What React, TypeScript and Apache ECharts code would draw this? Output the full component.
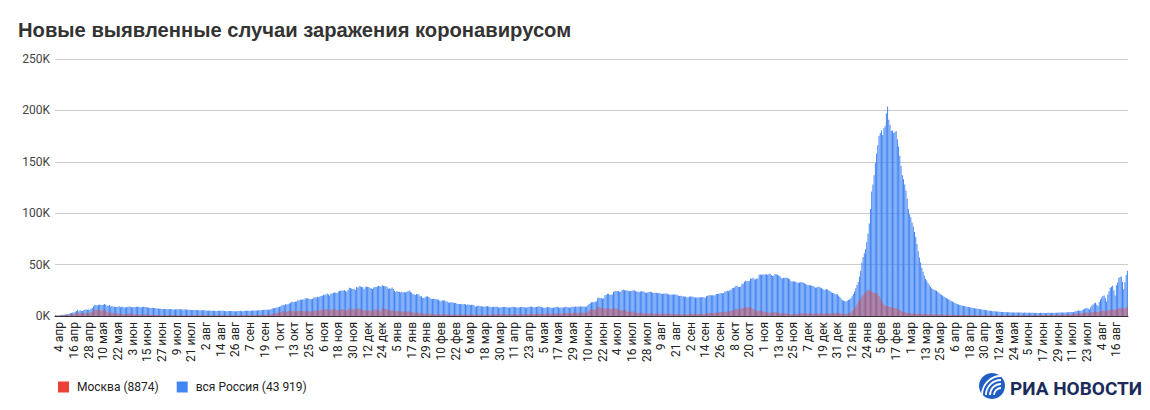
import React, { useEffect, useRef } from "react";
import * as echarts from "echarts";

const TITLE = "Новые выявленные случаи заражения коронавирусом";
const NAME_MOSCOW = "Москва (8874)";
const NAME_RUSSIA = "вся Россия (43 919)";
const MONTHS_RU = ["янв", "фев", "мар", "апр", "мая", "июн", "июл", "авг", "сен", "окт", "ноя", "дек"];
const START_DATE = [2020, 3, 1]; // 1 Apr 2020 (month index 3)
const Y_MAX = 250000;
const Y_STEP = 50000;

// Daily new cases, whole of Russia, in thousands (1 Apr 2020 - 31 Dec 2020)
const russia2020 = [
  0.8, 0.6, 0.6, 0.6, 0.7, 1.0, 1.2, 1.2, 1.5, 1.8, 1.7, 2.2, 2.6, 2.8, 3.4, 3.4, 4.1, 4.8, 6.1, 4.3, 5.6, 5.2, 4.8, 5.8, 6.0, 6.4, 6.2, 6.4, 5.8, 7.1,
  7.9, 9.6, 10.6, 10.6, 10.1, 10.6, 11.2, 10.7, 10.8, 11.0, 11.7, 10.9, 10.0, 10.0, 10.6, 9.2, 9.7, 8.9, 9.3, 8.8, 8.8, 8.9, 9.4, 8.6, 8.9, 8.9, 8.3, 8.4, 8.6, 9.0, 9.3,
  9.0, 8.5, 8.5, 8.8, 8.7, 8.9, 9.0, 9.0, 8.6, 8.4, 8.8, 9.0, 8.7, 8.8, 8.2, 8.2, 7.8, 7.8, 8.0, 7.9, 7.7, 7.6, 7.4, 7.2, 7.1, 7.1, 6.9, 6.8, 6.7, 6.7,
  6.6, 6.8, 6.6, 6.7, 6.6, 6.4, 6.4, 6.6, 6.5, 6.6, 6.6, 6.6, 6.5, 6.2, 6.4, 6.4, 6.4, 6.2, 6.1, 5.9, 5.8, 5.9, 5.8, 5.8, 5.9, 5.8, 5.6, 5.4, 5.5, 5.5, 5.5,
  5.5, 5.4, 5.2, 5.2, 5.3, 5.2, 5.2, 5.2, 5.1, 4.9, 4.9, 5.1, 5.1, 5.1, 5.1, 5.0, 4.8, 4.7, 4.7, 4.8, 4.9, 4.9, 4.9, 4.7, 4.7, 4.7, 4.7, 4.8, 4.9, 5.0, 4.7,
  4.7, 5.0, 5.1, 5.2, 5.2, 5.2, 5.1, 5.2, 5.4, 5.3, 5.4, 5.4, 5.4, 5.5, 5.7, 5.5, 5.8, 5.9, 6.1, 6.1, 6.2, 6.2, 6.4, 6.6, 7.2, 7.5, 7.9, 8.1, 8.2, 8.5,
  8.9, 9.4, 10.5, 10.9, 10.5, 11.6, 11.1, 11.5, 12.1, 12.8, 13.6, 13.9, 13.6, 14.2, 14.2, 15.2, 15.1, 16.0, 15.7, 16.3, 15.7, 17.3, 17.1, 17.3, 16.7, 16.6, 16.2, 16.6, 17.7, 18.3, 18.1,
  18.7, 18.3, 19.0, 19.4, 19.8, 20.6, 20.5, 21.0, 21.8, 20.9, 19.9, 21.6, 22.0, 22.7, 22.8, 22.6, 22.4, 23.6, 24.3, 24.6, 24.8, 24.6, 25.2, 24.3, 23.7, 25.3, 27.5, 27.1, 26.7, 26.3,
  26.4, 25.3, 28.1, 27.4, 28.8, 29.0, 28.1, 27.9, 26.1, 27.9, 28.6, 28.1, 28.1, 27.3, 26.7, 26.2, 27.7, 28.2, 28.2, 28.6, 29.4, 28.9, 28.8, 29.9, 29.3, 28.9, 29.0, 28.3, 26.5, 27.0, 26.5,
];

const russia2021 = [
  27.7, 26.3, 24.2, 23.4, 24.2, 23.3, 23.5, 22.9, 23.7, 22.9, 23.3, 22.9, 23.5, 24.1, 24.7, 23.6, 22.9, 21.1, 21.2, 20.4, 21.5, 21.1, 21.0, 19.3, 19.2, 17.7, 17.6, 18.2, 19.0, 19.2, 18.4,
  17.6, 16.6, 16.5, 16.7, 16.7, 16.6, 16.0, 15.9, 14.9, 14.3, 15.2, 15.1, 15.2, 14.2, 14.2, 13.2, 12.8, 13.4, 13.4, 13.0, 12.7, 12.6, 11.8, 11.7, 11.6, 11.7, 11.5, 11.4,
  11.6, 11.4, 10.6, 11.4, 11.0, 10.6, 11.0, 10.9, 10.4, 9.1, 9.4, 9.9, 10.0, 9.6, 9.4, 9.3, 9.1, 9.3, 9.4, 9.5, 9.3, 9.1, 8.4, 8.8, 9.1, 9.1, 9.1, 9.0, 8.3, 8.3, 8.4,
  8.8, 8.7, 8.8, 8.7, 8.6, 8.3, 8.3, 8.3, 8.8, 9.0, 8.8, 8.6, 8.2, 8.2, 8.3, 8.7, 9.1, 8.7, 8.6, 8.2, 8.1, 8.8, 8.8, 9.3, 9.0, 8.9, 8.3, 8.8, 8.7, 9.0,
  9.3, 9.3, 8.7, 8.3, 8.0, 8.0, 8.3, 8.7, 8.6, 8.4, 8.0, 7.8, 8.2, 8.3, 8.8, 8.9, 8.6, 8.0, 8.2, 8.2, 8.3, 8.6, 9.0, 8.8, 8.4, 8.1, 8.6, 8.9, 9.0, 9.1, 9.3,
  9.0, 9.3, 9.1, 9.3, 9.2, 9.3, 9.1, 9.0, 9.2, 10.4, 11.7, 12.5, 13.4, 13.7, 13.4, 14.1, 14.2, 17.3, 17.9, 17.6, 17.4, 16.7, 17.2, 20.2, 20.4, 21.7, 21.7, 20.5, 20.6, 21.0,
  23.5, 24.0, 24.4, 24.4, 24.4, 23.4, 23.8, 25.1, 25.8, 25.1, 25.1, 24.7, 24.5, 24.0, 24.2, 24.3, 25.0, 25.1, 24.0, 23.8, 23.7, 23.4, 23.8, 24.1, 23.9, 23.6, 22.6, 22.7, 22.9, 23.3, 23.6,
  23.3, 22.5, 22.6, 22.6, 22.5, 22.1, 22.3, 22.1, 21.6, 21.4, 21.9, 21.8, 21.9, 21.6, 21.0, 20.8, 20.6, 21.0, 20.9, 20.8, 20.8, 20.5, 19.6, 19.5, 19.7, 19.3, 19.2, 18.8, 18.9, 18.3, 18.3,
  18.9, 18.9, 18.9, 18.8, 18.3, 17.9, 17.9, 18.1, 18.2, 18.2, 18.3, 18.4, 18.0, 17.8, 19.3, 19.6, 20.2, 20.2, 20.3, 20.3, 20.0, 20.2, 21.3, 21.4, 21.6, 22.1, 22.3, 21.9, 22.4, 23.9,
  23.9, 24.5, 24.0, 25.1, 25.5, 27.0, 27.2, 28.0, 29.4, 29.4, 28.2, 28.2, 28.7, 31.3, 31.3, 33.2, 34.3, 33.7, 33.7, 34.1, 36.3, 36.4, 37.1, 35.7, 35.7, 36.4, 36.6, 40.1, 40.3, 40.0, 40.3,
  40.4, 40.4, 40.7, 40.2, 40.7, 41.3, 39.9, 38.8, 39.2, 40.8, 40.7, 40.1, 39.3, 38.8, 37.1, 36.6, 37.2, 37.1, 37.2, 37.1, 36.6, 35.7, 33.9, 33.6, 33.9, 33.6, 33.3, 32.6, 32.1, 32.6,
  32.9, 32.8, 32.6, 31.8, 31.1, 30.6, 29.8, 30.2, 30.0, 29.5, 29.4, 28.4, 27.4, 27.8, 28.5, 28.5, 27.8, 26.9, 26.2, 25.2, 25.5, 26.2, 25.7, 24.7, 24.4, 23.2, 22.4, 22.1, 21.2, 21.1, 21.1,
];

const russia2022 = [
  19.8, 18.6, 17.1, 15.6, 14.8, 14.3, 14.4, 14.9, 15.6, 16.2, 17.3, 19.2, 21.5, 23.8, 27.0, 30.5, 33.0, 38.5, 44.0, 52.0, 57.5, 61.0, 65.0, 72.0, 80.0, 90.0, 104.0, 121.0, 128.0, 137.0, 149.0,
  158.0, 166.0, 175.0, 178.0, 180.5, 176.0, 183.0, 185.0, 197.0, 203.9, 191.0, 186.0, 180.0, 180.4, 178.0, 179.0, 180.0, 172.0, 165.0, 156.0, 146.0, 137.0, 133.0, 128.0, 122.0, 114.0, 104.0, 99.0,
  96.0, 91.0, 87.0, 82.0, 77.0, 70.0, 63.0, 57.0, 52.0, 47.0, 43.0, 39.5, 36.0, 34.5, 32.0, 30.5, 28.5, 27.0, 26.0, 25.5, 25.0, 24.5, 23.5, 22.5, 21.5, 20.6, 20.0, 19.0, 18.2, 17.4, 16.7,
  16.0, 15.2, 14.6, 14.0, 13.3, 12.7, 12.2, 11.6, 11.1, 10.7, 10.4, 10.1, 9.8, 9.5, 9.2, 8.9, 8.7, 8.5, 8.3, 8.1, 7.8, 7.6, 7.4, 7.2, 7.0, 6.8, 6.6, 6.4, 6.2, 6.0,
  5.8, 5.6, 5.4, 5.2, 5.0, 4.9, 4.7, 4.6, 4.5, 4.4, 4.3, 4.2, 4.1, 4.0, 3.9, 3.9, 3.8, 3.7, 3.7, 3.6, 3.6, 3.5, 3.5, 3.5, 3.4, 3.4, 3.3, 3.4, 3.3, 3.3, 3.2,
  3.2, 3.3, 3.2, 3.2, 3.1, 3.1, 3.2, 3.1, 3.1, 3.0, 3.1, 3.0, 3.0, 3.0, 3.1, 3.0, 3.1, 3.0, 3.0, 3.0, 3.1, 3.1, 3.0, 3.1, 3.1, 3.0, 3.1, 3.2, 3.2, 3.3,
  3.3, 3.3, 3.4, 3.3, 3.4, 3.5, 3.6, 3.7, 3.8, 3.8, 3.7, 4.0, 4.3, 4.6, 5.0, 5.3, 5.1, 4.8, 5.7, 6.4, 7.0, 7.5, 7.8, 7.2, 6.3, 8.4, 10.2, 11.3, 12.5, 13.0, 11.0,
  9.8, 13.5, 16.0, 18.0, 19.5, 20.0, 17.5, 14.0, 21.0, 24.0, 27.6, 28.5, 29.5, 25.0, 20.0, 30.0, 32.5, 37.0, 38.0, 38.4, 33.0, 26.0, 33.0, 40.0, 43.919,
];

// Daily new cases, Moscow, in thousands
const moscow2020 = [
  0.6, 0.4, 0.5, 0.4, 0.5, 0.7, 0.7, 0.8, 1.0, 1.1, 1.0, 1.4, 1.4, 1.5, 1.8, 1.7, 2.2, 2.6, 3.6, 2.2, 2.9, 2.6, 2.1, 3.1, 2.7, 3.1, 2.9, 3.1, 2.2, 3.7,
  4.0, 5.4, 6.0, 5.9, 5.9, 6.7, 5.8, 4.7, 5.6, 5.0, 6.2, 5.4, 4.2, 3.5, 3.5, 3.2, 3.3, 2.6, 2.7, 2.3, 2.4, 2.3, 2.1, 2.0, 2.0, 1.9, 1.6, 1.6, 1.8, 2.3, 2.6,
  2.1, 1.8, 1.6, 1.5, 1.6, 1.6, 1.7, 1.6, 1.5, 1.2, 1.2, 1.5, 1.6, 1.6, 1.1, 1.1, 1.0, 1.0, 1.1, 1.0, 0.9, 1.0, 0.9, 0.9, 0.9, 0.8, 0.8, 0.8, 0.7, 0.7,
  0.7, 0.7, 0.7, 0.7, 0.7, 0.7, 0.7, 0.7, 0.7, 0.6, 0.6, 0.6, 0.6, 0.6, 0.6, 0.6, 0.6, 0.6, 0.6, 0.6, 0.6, 0.7, 0.7, 0.7, 0.7, 0.7, 0.7, 0.7, 0.7, 0.7, 0.7,
  0.7, 0.7, 0.7, 0.7, 0.7, 0.7, 0.7, 0.7, 0.7, 0.6, 0.6, 0.7, 0.7, 0.7, 0.7, 0.7, 0.7, 0.6, 0.6, 0.6, 0.7, 0.7, 0.7, 0.7, 0.6, 0.6, 0.6, 0.7, 0.7, 0.7, 0.7,
  0.7, 0.7, 0.7, 0.7, 0.7, 0.7, 0.7, 0.7, 0.8, 0.8, 0.8, 0.9, 0.9, 1.0, 1.0, 1.0, 1.1, 1.1, 1.2, 1.3, 1.3, 1.3, 1.5, 1.6, 2.0, 2.2, 2.5, 2.7, 2.9, 2.9,
  3.3, 3.7, 4.6, 4.8, 3.5, 4.5, 4.0, 4.9, 5.2, 5.4, 4.9, 4.6, 4.5, 4.6, 4.6, 4.9, 4.8, 5.4, 4.8, 4.6, 4.5, 4.5, 4.6, 5.2, 4.6, 4.4, 4.1, 4.3, 5.1, 5.3, 5.3,
  5.3, 5.9, 4.8, 6.0, 6.0, 6.8, 6.0, 6.3, 6.9, 5.3, 5.0, 6.4, 6.2, 6.7, 6.5, 6.2, 5.5, 5.9, 5.9, 6.4, 6.8, 6.4, 5.9, 5.5, 5.3, 6.4, 7.2, 7.2, 6.0, 7.0,
  6.5, 5.9, 7.5, 7.0, 7.1, 7.0, 6.2, 5.8, 5.0, 5.5, 5.8, 5.4, 5.9, 5.3, 5.1, 4.7, 5.9, 6.3, 6.4, 6.0, 6.4, 5.1, 4.4, 8.2, 7.1, 6.9, 6.9, 6.6, 5.3, 5.3, 5.9,
];

const moscow2021 = [
  5.4, 5.6, 5.2, 4.7, 4.6, 4.8, 4.6, 4.4, 4.5, 4.2, 4.5, 4.4, 4.3, 4.6, 4.6, 3.9, 3.7, 3.4, 3.3, 3.1, 3.4, 3.1, 2.9, 2.7, 2.6, 2.4, 2.2, 2.2, 2.4, 2.3, 2.3,
  2.2, 1.9, 1.8, 1.8, 1.8, 1.8, 1.7, 1.7, 1.6, 1.5, 1.8, 1.7, 1.8, 1.7, 1.6, 1.3, 1.2, 1.4, 1.4, 1.5, 1.4, 1.3, 1.2, 1.2, 1.3, 1.3, 1.4, 1.5,
  1.5, 1.4, 1.2, 1.5, 1.4, 1.4, 1.5, 1.5, 1.3, 1.0, 1.1, 1.3, 1.5, 1.4, 1.3, 1.3, 1.2, 1.3, 1.5, 1.5, 1.4, 1.4, 1.1, 1.4, 1.5, 1.6, 1.7, 1.7, 1.4, 1.4, 1.6,
  1.7, 1.7, 1.8, 1.8, 1.7, 1.4, 1.4, 1.5, 1.8, 2.0, 1.9, 1.7, 1.5, 1.5, 1.6, 1.8, 2.1, 2.0, 1.8, 1.5, 1.5, 2.0, 2.0, 2.4, 2.1, 2.0, 1.6, 2.0, 2.0, 2.2,
  2.5, 2.5, 2.2, 2.0, 1.9, 2.0, 2.2, 2.6, 2.5, 2.3, 2.0, 1.9, 2.1, 2.1, 2.7, 2.6, 2.5, 2.1, 2.3, 2.3, 2.6, 2.9, 3.0, 2.8, 2.6, 2.5, 2.9, 3.0, 3.2, 3.3, 3.3,
  3.0, 3.0, 3.1, 3.2, 3.2, 3.4, 3.1, 3.0, 3.2, 3.7, 5.0, 6.4, 6.8, 6.7, 5.8, 5.8, 6.7, 9.1, 9.1, 8.6, 7.9, 6.6, 7.3, 7.9, 7.4, 7.5, 7.6, 6.8, 6.5, 6.7,
  7.6, 7.4, 7.3, 7.4, 6.8, 5.4, 5.5, 5.8, 5.6, 6.2, 5.6, 4.2, 4.0, 4.2, 4.4, 4.3, 4.3, 4.2, 3.5, 3.0, 2.9, 3.1, 2.9, 3.1, 3.0, 2.4, 2.3, 2.5, 2.5, 2.7, 2.8,
  2.7, 2.3, 2.3, 2.4, 2.4, 2.4, 2.5, 2.5, 2.0, 2.0, 2.4, 2.3, 2.4, 2.4, 2.3, 1.9, 1.9, 2.2, 2.0, 2.0, 2.0, 2.1, 1.7, 1.6, 1.8, 1.6, 1.7, 1.7, 1.8, 1.5, 1.5,
  2.1, 2.2, 2.2, 2.2, 2.0, 1.8, 1.7, 2.3, 2.3, 2.1, 2.1, 2.1, 1.8, 1.8, 2.6, 2.8, 2.9, 2.8, 2.9, 2.9, 2.9, 3.0, 3.4, 3.4, 3.3, 3.7, 3.6, 3.6, 3.6, 4.1,
  4.0, 4.5, 4.3, 4.7, 4.9, 5.5, 5.7, 6.1, 7.0, 7.0, 6.4, 6.3, 6.5, 7.7, 7.5, 8.0, 8.4, 8.3, 8.4, 8.5, 8.1, 7.8, 6.8, 6.2, 4.9, 5.0, 4.6, 5.4, 5.9, 4.8, 4.6,
  4.2, 3.6, 3.8, 3.2, 3.1, 3.1, 3.1, 3.4, 3.7, 3.7, 3.2, 3.1, 3.2, 2.6, 2.7, 2.8, 2.8, 2.6, 2.6, 2.3, 2.2, 2.0, 1.7, 2.0, 1.9, 2.1, 2.4, 2.5, 1.7, 1.9,
  2.5, 2.6, 2.7, 2.6, 2.4, 2.2, 2.2, 2.7, 2.6, 2.5, 2.4, 2.3, 2.2, 2.3, 2.6, 2.6, 2.5, 2.4, 2.3, 2.2, 2.6, 2.6, 2.6, 2.5, 2.5, 2.4, 2.3, 2.6, 2.8, 2.9, 3.3,
];

const moscow2022 = [
  3.0, 2.8, 2.4, 2.1, 2.0, 2.0, 2.1, 2.3, 2.5, 2.9, 3.6, 4.8, 6.0, 7.5, 9.0, 11.5, 14.0, 15.5, 17.0, 18.8, 20.5, 22.0, 23.0, 24.5, 25.5, 24.8, 24.0, 23.5, 23.0, 22.7, 22.5,
  22.2, 21.5, 19.5, 17.0, 14.5, 12.5, 11.0, 10.2, 9.8, 9.5, 9.2, 8.8, 8.5, 8.2, 8.0, 7.8, 7.6, 7.2, 6.5, 5.8, 5.0, 4.4, 4.0, 3.6, 3.2, 3.0, 2.8, 2.7,
  2.6, 2.5, 2.5, 2.4, 2.3, 2.2, 2.0, 1.9, 1.9, 2.0, 2.0, 1.9, 1.8, 1.7, 1.7, 1.8, 1.8, 1.7, 1.6, 1.5, 1.5, 1.6, 1.6, 1.5, 1.5, 1.4, 1.3, 1.3, 1.3, 1.3, 1.2,
  1.2, 1.1, 1.0, 1.0, 1.1, 1.1, 1.0, 1.0, 0.9, 0.9, 0.9, 1.0, 1.0, 0.9, 0.9, 0.9, 0.8, 0.8, 0.9, 0.9, 0.9, 0.8, 0.8, 0.8, 0.7, 0.8, 0.8, 0.8, 0.8, 0.7,
  0.7, 0.6, 0.6, 0.6, 0.7, 0.7, 0.6, 0.6, 0.6, 0.6, 0.5, 0.6, 0.6, 0.6, 0.6, 0.6, 0.6, 0.6, 0.6, 0.6, 0.6, 0.5, 0.5, 0.6, 0.6, 0.6, 0.6, 0.6, 0.6, 0.6, 0.7,
  0.7, 0.7, 0.7, 0.7, 0.7, 0.7, 0.7, 0.8, 0.8, 0.8, 0.8, 0.8, 0.8, 0.8, 0.9, 0.9, 0.9, 0.9, 0.9, 0.9, 1.0, 1.0, 1.0, 1.0, 1.0, 1.0, 1.0, 1.1, 1.1, 1.1,
  1.2, 1.2, 1.2, 1.3, 1.3, 1.4, 1.5, 1.6, 1.7, 1.7, 1.8, 2.0, 2.2, 2.4, 2.5, 2.6, 2.5, 2.4, 2.8, 3.0, 3.1, 3.2, 3.3, 3.2, 3.0, 3.5, 3.9, 4.1, 4.3, 4.4, 4.1,
  3.9, 4.4, 4.7, 5.0, 5.2, 5.3, 5.0, 4.6, 5.4, 5.8, 6.2, 6.4, 6.6, 6.2, 5.6, 6.6, 7.0, 7.5, 7.8, 8.0, 7.4, 6.8, 7.6, 8.3, 8.874,
];

const russiaK = [...russia2020, ...russia2021, ...russia2022];
const moscowK = [...moscow2020, ...moscow2021, ...moscow2022];

function buildCategories(n: number): string[] {
  const out: string[] = [];
  for (let i = 0; i < n; i++) {
    const dt = new Date(Date.UTC(START_DATE[0], START_DATE[1], START_DATE[2] + i));
    out.push(`${dt.getUTCDate()} ${MONTHS_RU[dt.getUTCMonth()]}`);
  }
  return out;
}

export default function App() {
  const ref = useRef<HTMLDivElement>(null);

  useEffect(() => {
    document.body.style.margin = "0";
    if (!ref.current) return;
    const chart = echarts.init(ref.current, undefined, { renderer: "svg" });
    const categories = buildCategories(russiaK.length);
    const russia = russiaK.map((v) => Math.round(v * 1000));
    const moscow = moscowK.map((v) => Math.round(v * 1000));
    const axisFont = "Roboto, 'Liberation Sans', Arial, sans-serif";

    const arcs = [7, 11, 15, 19].map((r) => ({
      type: "arc",
      shape: { cx: 1001, cy: 395, r, startAngle: Math.PI, endAngle: Math.PI * 1.5, clockwise: true },
      style: { stroke: "#ffffff", lineWidth: 1.8, fill: null },
      z: 101,
    }));

    chart.setOption({
      animation: false,
      backgroundColor: "#ffffff",
      title: {
        text: TITLE,
        left: 18,
        top: 20,
        padding: 0,
        textStyle: {
          fontFamily: "'Liberation Sans', Arial, sans-serif",
          fontSize: 20.2,
          fontWeight: "bold",
          color: "#333333",
        },
      },
      grid: { left: 55, right: 22, top: 59, bottom: 94, containLabel: false },
      legend: {
        data: [
          { name: NAME_MOSCOW, itemStyle: { color: "#EA4335", opacity: 1 } },
          { name: NAME_RUSSIA, itemStyle: { color: "#4285F4", opacity: 1 } },
        ],
        left: 58,
        top: 381,
        padding: 0,
        itemWidth: 11,
        itemHeight: 11,
        itemGap: 18,
        icon: "rect",
        selectedMode: false,
        textStyle: { fontFamily: axisFont, fontSize: 12, color: "#222222", padding: [0, 0, 0, 3] },
      },
      xAxis: [
        {
          type: "category",
          data: categories,
          axisTick: { show: false },
          axisLine: { lineStyle: { color: "#333333", width: 1 } },
          axisLabel: {
            interval: (index: number) => index % 12 === 3,
            rotate: 90,
            fontFamily: axisFont,
            fontSize: 12,
            color: "#222222",
            margin: 6,
          },
        },
        {
          type: "category",
          data: categories,
          show: false,
        },
      ],
      yAxis: {
        type: "value",
        min: 0,
        max: Y_MAX,
        interval: Y_STEP,
        axisLine: { show: false },
        axisTick: { show: false },
        splitLine: { lineStyle: { color: "#cccccc", width: 1 } },
        axisLabel: {
          formatter: (v: number) => `${v / 1000}K`,
          fontFamily: axisFont,
          fontSize: 12,
          color: "#444444",
          margin: 5,
        },
      },
      series: [
        {
          name: NAME_RUSSIA,
          type: "bar",
          xAxisIndex: 0,
          data: russia,
          barCategoryGap: "25%",
          itemStyle: { color: "#4285F4" },
          z: 2,
        },
        {
          name: NAME_MOSCOW,
          type: "bar",
          xAxisIndex: 1,
          data: moscow,
          barWidth: "28%",
          itemStyle: { color: "#EA4335", opacity: 0.55 },
          z: 3,
        },
      ],
      graphic: [
        { type: "circle", shape: { cx: 992, cy: 386, r: 13 }, style: { fill: "#1f5fc4" }, z: 100 },
        ...arcs,
        {
          type: "text",
          x: 1010,
          y: 388,
          z: 100,
          style: {
            text: "РИА НОВОСТИ",
            font: "bold 19px Roboto, 'Liberation Sans', Arial, sans-serif",
            fill: "#1b2b5b",
            verticalAlign: "middle",
            align: "left",
          },
        },
      ],
    });

    return () => chart.dispose();
  }, []);

  return <div ref={ref} style={{ width: 1150, height: 410 }} />;
}
